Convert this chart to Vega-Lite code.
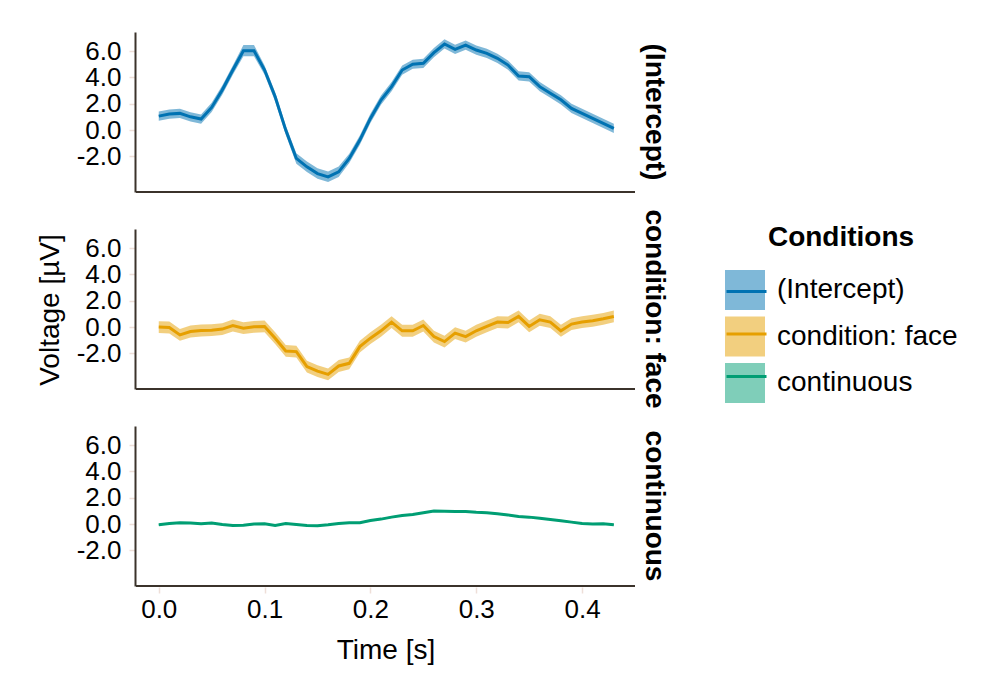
{
  "$schema": "https://vega.github.io/schema/vega-lite/v6.json",
  "padding": {"left": 36, "top": 32, "right": 5, "bottom": 5},
  "background": "white",
  "config": {
    "font": "Liberation Sans",
    "view": {"stroke": null},
    "axis": {
      "grid": false,
      "domainColor": "#3b332b",
      "domainWidth": 2,
      "tickColor": "#eedfd8",
      "tickSize": 6,
      "tickWidth": 1.5,
      "labelFont": "Liberation Sans",
      "labelFontSize": 26,
      "labelColor": "black",
      "labelOverlap": false,
      "titleFont": "Liberation Sans",
      "titleFontSize": 28,
      "titleFontWeight": "normal",
      "titleColor": "black"
    },
    "axisY": {"labelOverlap": false, "tickCount": 5},
    "facet": {"spacing": 36}
  },
  "data": {
    "values": [
      {"c": "(Intercept)", "t": 0.00, "y": 1.06, "lo": 0.71, "hi": 1.41},
      {"c": "(Intercept)", "t": 0.01, "y": 1.22, "lo": 0.87, "hi": 1.57},
      {"c": "(Intercept)", "t": 0.02, "y": 1.27, "lo": 0.92, "hi": 1.62},
      {"c": "(Intercept)", "t": 0.03, "y": 1.01, "lo": 0.66, "hi": 1.36},
      {"c": "(Intercept)", "t": 0.04, "y": 0.84, "lo": 0.49, "hi": 1.19},
      {"c": "(Intercept)", "t": 0.05, "y": 1.72, "lo": 1.37, "hi": 2.07},
      {"c": "(Intercept)", "t": 0.06, "y": 3.04, "lo": 2.69, "hi": 3.39},
      {"c": "(Intercept)", "t": 0.07, "y": 4.56, "lo": 4.21, "hi": 4.91},
      {"c": "(Intercept)", "t": 0.08, "y": 6.03, "lo": 5.6, "hi": 6.46},
      {"c": "(Intercept)", "t": 0.09, "y": 6.03, "lo": 5.6, "hi": 6.46},
      {"c": "(Intercept)", "t": 0.10, "y": 4.56, "lo": 4.21, "hi": 4.91},
      {"c": "(Intercept)", "t": 0.11, "y": 2.53, "lo": 2.18, "hi": 2.88},
      {"c": "(Intercept)", "t": 0.12, "y": 0.0, "lo": -0.35, "hi": 0.35},
      {"c": "(Intercept)", "t": 0.13, "y": -2.15, "lo": -2.55, "hi": -1.75},
      {"c": "(Intercept)", "t": 0.14, "y": -2.79, "lo": -3.19, "hi": -2.39},
      {"c": "(Intercept)", "t": 0.15, "y": -3.30, "lo": -3.7, "hi": -2.9},
      {"c": "(Intercept)", "t": 0.16, "y": -3.55, "lo": -3.95, "hi": -3.15},
      {"c": "(Intercept)", "t": 0.17, "y": -3.17, "lo": -3.57, "hi": -2.77},
      {"c": "(Intercept)", "t": 0.18, "y": -2.15, "lo": -2.5, "hi": -1.8},
      {"c": "(Intercept)", "t": 0.19, "y": -0.76, "lo": -1.11, "hi": -0.41},
      {"c": "(Intercept)", "t": 0.20, "y": 0.89, "lo": 0.54, "hi": 1.24},
      {"c": "(Intercept)", "t": 0.21, "y": 2.28, "lo": 1.93, "hi": 2.63},
      {"c": "(Intercept)", "t": 0.22, "y": 3.30, "lo": 2.95, "hi": 3.65},
      {"c": "(Intercept)", "t": 0.23, "y": 4.56, "lo": 4.21, "hi": 4.91},
      {"c": "(Intercept)", "t": 0.24, "y": 5.0, "lo": 4.65, "hi": 5.35},
      {"c": "(Intercept)", "t": 0.25, "y": 5.07, "lo": 4.72, "hi": 5.42},
      {"c": "(Intercept)", "t": 0.26, "y": 5.88, "lo": 5.53, "hi": 6.23},
      {"c": "(Intercept)", "t": 0.27, "y": 6.54, "lo": 6.19, "hi": 6.89},
      {"c": "(Intercept)", "t": 0.28, "y": 6.13, "lo": 5.78, "hi": 6.48},
      {"c": "(Intercept)", "t": 0.29, "y": 6.46, "lo": 6.11, "hi": 6.81},
      {"c": "(Intercept)", "t": 0.30, "y": 6.08, "lo": 5.73, "hi": 6.43},
      {"c": "(Intercept)", "t": 0.31, "y": 5.83, "lo": 5.48, "hi": 6.18},
      {"c": "(Intercept)", "t": 0.32, "y": 5.45, "lo": 5.1, "hi": 5.8},
      {"c": "(Intercept)", "t": 0.33, "y": 4.94, "lo": 4.59, "hi": 5.29},
      {"c": "(Intercept)", "t": 0.34, "y": 4.11, "lo": 3.76, "hi": 4.46},
      {"c": "(Intercept)", "t": 0.35, "y": 4.05, "lo": 3.7, "hi": 4.4},
      {"c": "(Intercept)", "t": 0.36, "y": 3.3, "lo": 2.95, "hi": 3.65},
      {"c": "(Intercept)", "t": 0.37, "y": 2.8, "lo": 2.45, "hi": 3.15},
      {"c": "(Intercept)", "t": 0.38, "y": 2.3, "lo": 1.95, "hi": 2.65},
      {"c": "(Intercept)", "t": 0.39, "y": 1.65, "lo": 1.3, "hi": 2.0},
      {"c": "(Intercept)", "t": 0.40, "y": 1.27, "lo": 0.92, "hi": 1.62},
      {"c": "(Intercept)", "t": 0.41, "y": 0.89, "lo": 0.54, "hi": 1.24},
      {"c": "(Intercept)", "t": 0.42, "y": 0.51, "lo": 0.16, "hi": 0.86},
      {"c": "(Intercept)", "t": 0.43, "y": 0.13, "lo": -0.22, "hi": 0.48},
      {"c": "condition: face", "t": 0.00, "y": 0.0, "lo": -0.45, "hi": 0.45},
      {"c": "condition: face", "t": 0.01, "y": -0.03, "lo": -0.48, "hi": 0.42},
      {"c": "condition: face", "t": 0.02, "y": -0.59, "lo": -1.04, "hi": -0.14},
      {"c": "condition: face", "t": 0.03, "y": -0.33, "lo": -0.78, "hi": 0.12},
      {"c": "condition: face", "t": 0.04, "y": -0.26, "lo": -0.71, "hi": 0.19},
      {"c": "condition: face", "t": 0.05, "y": -0.23, "lo": -0.68, "hi": 0.22},
      {"c": "condition: face", "t": 0.06, "y": -0.15, "lo": -0.6, "hi": 0.3},
      {"c": "condition: face", "t": 0.07, "y": 0.12, "lo": -0.33, "hi": 0.57},
      {"c": "condition: face", "t": 0.08, "y": -0.08, "lo": -0.53, "hi": 0.37},
      {"c": "condition: face", "t": 0.09, "y": 0.02, "lo": -0.43, "hi": 0.47},
      {"c": "condition: face", "t": 0.10, "y": 0.05, "lo": -0.4, "hi": 0.5},
      {"c": "condition: face", "t": 0.11, "y": -0.84, "lo": -1.29, "hi": -0.39},
      {"c": "condition: face", "t": 0.12, "y": -1.81, "lo": -2.26, "hi": -1.36},
      {"c": "condition: face", "t": 0.13, "y": -1.86, "lo": -2.31, "hi": -1.41},
      {"c": "condition: face", "t": 0.14, "y": -3.0, "lo": -3.45, "hi": -2.55},
      {"c": "condition: face", "t": 0.15, "y": -3.34, "lo": -3.79, "hi": -2.89},
      {"c": "condition: face", "t": 0.16, "y": -3.59, "lo": -4.04, "hi": -3.14},
      {"c": "condition: face", "t": 0.17, "y": -2.95, "lo": -3.4, "hi": -2.5},
      {"c": "condition: face", "t": 0.18, "y": -2.75, "lo": -3.2, "hi": -2.3},
      {"c": "condition: face", "t": 0.19, "y": -1.48, "lo": -1.93, "hi": -1.03},
      {"c": "condition: face", "t": 0.20, "y": -0.84, "lo": -1.29, "hi": -0.39},
      {"c": "condition: face", "t": 0.21, "y": -0.28, "lo": -0.73, "hi": 0.17},
      {"c": "condition: face", "t": 0.22, "y": 0.38, "lo": -0.07, "hi": 0.83},
      {"c": "condition: face", "t": 0.23, "y": -0.28, "lo": -0.73, "hi": 0.17},
      {"c": "condition: face", "t": 0.24, "y": -0.28, "lo": -0.73, "hi": 0.17},
      {"c": "condition: face", "t": 0.25, "y": 0.12, "lo": -0.33, "hi": 0.57},
      {"c": "condition: face", "t": 0.26, "y": -0.72, "lo": -1.17, "hi": -0.27},
      {"c": "condition: face", "t": 0.27, "y": -1.1, "lo": -1.55, "hi": -0.65},
      {"c": "condition: face", "t": 0.28, "y": -0.46, "lo": -0.91, "hi": -0.01},
      {"c": "condition: face", "t": 0.29, "y": -0.72, "lo": -1.17, "hi": -0.27},
      {"c": "condition: face", "t": 0.30, "y": -0.28, "lo": -0.73, "hi": 0.17},
      {"c": "condition: face", "t": 0.31, "y": 0.05, "lo": -0.4, "hi": 0.5},
      {"c": "condition: face", "t": 0.32, "y": 0.38, "lo": -0.07, "hi": 0.83},
      {"c": "condition: face", "t": 0.33, "y": 0.35, "lo": -0.1, "hi": 0.8},
      {"c": "condition: face", "t": 0.34, "y": 0.81, "lo": 0.36, "hi": 1.26},
      {"c": "condition: face", "t": 0.35, "y": 0.05, "lo": -0.4, "hi": 0.5},
      {"c": "condition: face", "t": 0.36, "y": 0.56, "lo": 0.11, "hi": 1.01},
      {"c": "condition: face", "t": 0.37, "y": 0.38, "lo": -0.07, "hi": 0.83},
      {"c": "condition: face", "t": 0.38, "y": -0.28, "lo": -0.73, "hi": 0.17},
      {"c": "condition: face", "t": 0.39, "y": 0.23, "lo": -0.22, "hi": 0.68},
      {"c": "condition: face", "t": 0.40, "y": 0.38, "lo": -0.07, "hi": 0.83},
      {"c": "condition: face", "t": 0.41, "y": 0.48, "lo": 0.03, "hi": 0.93},
      {"c": "condition: face", "t": 0.42, "y": 0.63, "lo": 0.18, "hi": 1.08},
      {"c": "condition: face", "t": 0.43, "y": 0.81, "lo": 0.36, "hi": 1.26},
      {"c": "continuous", "t": 0.00, "y": -0.05, "lo": -0.11, "hi": 0.01},
      {"c": "continuous", "t": 0.01, "y": 0.05, "lo": -0.01, "hi": 0.11},
      {"c": "continuous", "t": 0.02, "y": 0.1, "lo": 0.04, "hi": 0.16},
      {"c": "continuous", "t": 0.03, "y": 0.08, "lo": 0.02, "hi": 0.14},
      {"c": "continuous", "t": 0.04, "y": 0.03, "lo": -0.03, "hi": 0.09},
      {"c": "continuous", "t": 0.05, "y": 0.08, "lo": 0.02, "hi": 0.14},
      {"c": "continuous", "t": 0.06, "y": -0.03, "lo": -0.09, "hi": 0.03},
      {"c": "continuous", "t": 0.07, "y": -0.1, "lo": -0.16, "hi": -0.04},
      {"c": "continuous", "t": 0.08, "y": -0.08, "lo": -0.14, "hi": -0.02},
      {"c": "continuous", "t": 0.09, "y": 0.0, "lo": -0.06, "hi": 0.06},
      {"c": "continuous", "t": 0.10, "y": 0.03, "lo": -0.03, "hi": 0.09},
      {"c": "continuous", "t": 0.11, "y": -0.1, "lo": -0.16, "hi": -0.04},
      {"c": "continuous", "t": 0.12, "y": 0.05, "lo": -0.01, "hi": 0.11},
      {"c": "continuous", "t": 0.13, "y": -0.03, "lo": -0.09, "hi": 0.03},
      {"c": "continuous", "t": 0.14, "y": -0.1, "lo": -0.16, "hi": -0.04},
      {"c": "continuous", "t": 0.15, "y": -0.13, "lo": -0.19, "hi": -0.07},
      {"c": "continuous", "t": 0.16, "y": -0.05, "lo": -0.11, "hi": 0.01},
      {"c": "continuous", "t": 0.17, "y": 0.05, "lo": -0.01, "hi": 0.11},
      {"c": "continuous", "t": 0.18, "y": 0.1, "lo": 0.04, "hi": 0.16},
      {"c": "continuous", "t": 0.19, "y": 0.1, "lo": 0.04, "hi": 0.16},
      {"c": "continuous", "t": 0.20, "y": 0.28, "lo": 0.22, "hi": 0.34},
      {"c": "continuous", "t": 0.21, "y": 0.38, "lo": 0.32, "hi": 0.44},
      {"c": "continuous", "t": 0.22, "y": 0.53, "lo": 0.47, "hi": 0.59},
      {"c": "continuous", "t": 0.23, "y": 0.65, "lo": 0.59, "hi": 0.71},
      {"c": "continuous", "t": 0.24, "y": 0.73, "lo": 0.67, "hi": 0.79},
      {"c": "continuous", "t": 0.25, "y": 0.86, "lo": 0.8, "hi": 0.92},
      {"c": "continuous", "t": 0.26, "y": 1.0, "lo": 0.94, "hi": 1.06},
      {"c": "continuous", "t": 0.27, "y": 0.98, "lo": 0.92, "hi": 1.04},
      {"c": "continuous", "t": 0.28, "y": 0.96, "lo": 0.9, "hi": 1.02},
      {"c": "continuous", "t": 0.29, "y": 0.96, "lo": 0.9, "hi": 1.02},
      {"c": "continuous", "t": 0.30, "y": 0.9, "lo": 0.84, "hi": 0.96},
      {"c": "continuous", "t": 0.31, "y": 0.86, "lo": 0.8, "hi": 0.92},
      {"c": "continuous", "t": 0.32, "y": 0.78, "lo": 0.72, "hi": 0.84},
      {"c": "continuous", "t": 0.33, "y": 0.7, "lo": 0.64, "hi": 0.76},
      {"c": "continuous", "t": 0.34, "y": 0.58, "lo": 0.52, "hi": 0.64},
      {"c": "continuous", "t": 0.35, "y": 0.53, "lo": 0.47, "hi": 0.59},
      {"c": "continuous", "t": 0.36, "y": 0.45, "lo": 0.39, "hi": 0.51},
      {"c": "continuous", "t": 0.37, "y": 0.35, "lo": 0.29, "hi": 0.41},
      {"c": "continuous", "t": 0.38, "y": 0.25, "lo": 0.19, "hi": 0.31},
      {"c": "continuous", "t": 0.39, "y": 0.15, "lo": 0.09, "hi": 0.21},
      {"c": "continuous", "t": 0.40, "y": 0.05, "lo": -0.01, "hi": 0.11},
      {"c": "continuous", "t": 0.41, "y": 0.0, "lo": -0.06, "hi": 0.06},
      {"c": "continuous", "t": 0.42, "y": 0.03, "lo": -0.03, "hi": 0.09},
      {"c": "continuous", "t": 0.43, "y": -0.05, "lo": -0.11, "hi": 0.01}
    ]
  },
  "facet": {
    "row": {
      "field": "c",
      "type": "nominal",
      "sort": ["(Intercept)", "condition: face", "continuous"],
      "title": "Voltage [µV]",
      "header": {
        "labelOrient": "right",
        "labelAngle": 90,
        "labelFont": "Liberation Sans",
        "labelFontSize": 28,
        "labelFontWeight": "bold",
        "labelColor": "black",
        "labelPadding": 4,
        "labelLimit": 0,
        "titleOrient": "left",
        "titleFont": "Liberation Sans",
        "titleFontSize": 28,
        "titleFontWeight": "normal",
        "titleColor": "black",
        "titlePadding": 1
      }
    }
  },
  "spec": {
    "width": 499,
    "height": 160,
    "layer": [
      {
        "mark": {"type": "area", "opacity": 0.5},
        "encoding": {
          "x": {
            "field": "t",
            "type": "quantitative",
            "scale": {"domain": [-0.0215, 0.45], "nice": false, "zero": false},
            "axis": {"values": [0, 0.1, 0.2, 0.3, 0.4], "format": ".1f", "title": "Time [s]", "domain": false, "labelPadding": 3, "titlePadding": 14}
          },
          "y": {
            "field": "lo",
            "type": "quantitative",
            "scale": {"domain": [-4.7, 7.45], "nice": false, "zero": false},
            "axis": {"values": [-2, 0, 2, 4, 6], "tickCount": 5, "labelExpr": "replace(format(datum.value, '.1f'), '−', '-')", "labelOverlap": false, "labelBound": false, "title": null, "labelPadding": 8}
          },
          "y2": {"field": "hi"},
          "fill": {
            "field": "c",
            "type": "nominal",
            "scale": {"domain": ["(Intercept)", "condition: face", "continuous"], "range": ["#0072B2", "#E69F00", "#009E73"]},
            "legend": {
              "title": "Conditions",
              "orient": "none",
              "legendX": 589,
              "legendY": 192,
              "titleFontSize": 28,
              "titleFontWeight": "bold",
              "titleColor": "black",
              "titleAnchor": "middle",
              "titlePadding": 18,
              "symbolType": "square",
              "symbolSize": 1600,
              "symbolOpacity": 0.5,
              "symbolStrokeWidth": 0,
              "labelFontSize": 28,
              "labelColor": "black",
              "labelLimit": 0,
              "labelOffset": 12,
              "rowPadding": 6.5
            }
          }
        }
      },
      {
        "mark": {"type": "line", "strokeWidth": 3},
        "encoding": {
          "x": {"field": "t", "type": "quantitative"},
          "y": {
            "field": "y",
            "type": "quantitative",
            "axis": {"values": [-2, 0, 2, 4, 6], "tickCount": 5, "labelExpr": "replace(format(datum.value, '.1f'), '−', '-')", "labelOverlap": false, "labelBound": false, "title": null, "labelPadding": 8}
          },
          "stroke": {
            "field": "c",
            "type": "nominal",
            "scale": {"domain": ["continuous", "condition: face", "(Intercept)"], "range": ["#009E73", "#E69F00", "#0072B2"]},
            "legend": {
              "title": "Conditions",
              "values": ["(Intercept)", "condition: face", "continuous"],
              "orient": "none",
              "legendX": 589,
              "legendY": 192,
              "titleFontSize": 28,
              "titleFontWeight": "bold",
              "titleOpacity": 0,
              "titleAnchor": "middle",
              "titlePadding": 18,
              "symbolType": "stroke",
              "symbolSize": 1600,
              "symbolStrokeWidth": 3,
              "labelFontSize": 28,
              "labelOpacity": 0,
              "labelLimit": 0,
              "labelOffset": 12,
              "rowPadding": 6.5
            }
          }
        }
      },
      {
        "mark": {"type": "rule", "color": "#3b332b", "strokeWidth": 2},
        "encoding": {"y": {"datum": -4.7}}
      }
    ]
  }
}
